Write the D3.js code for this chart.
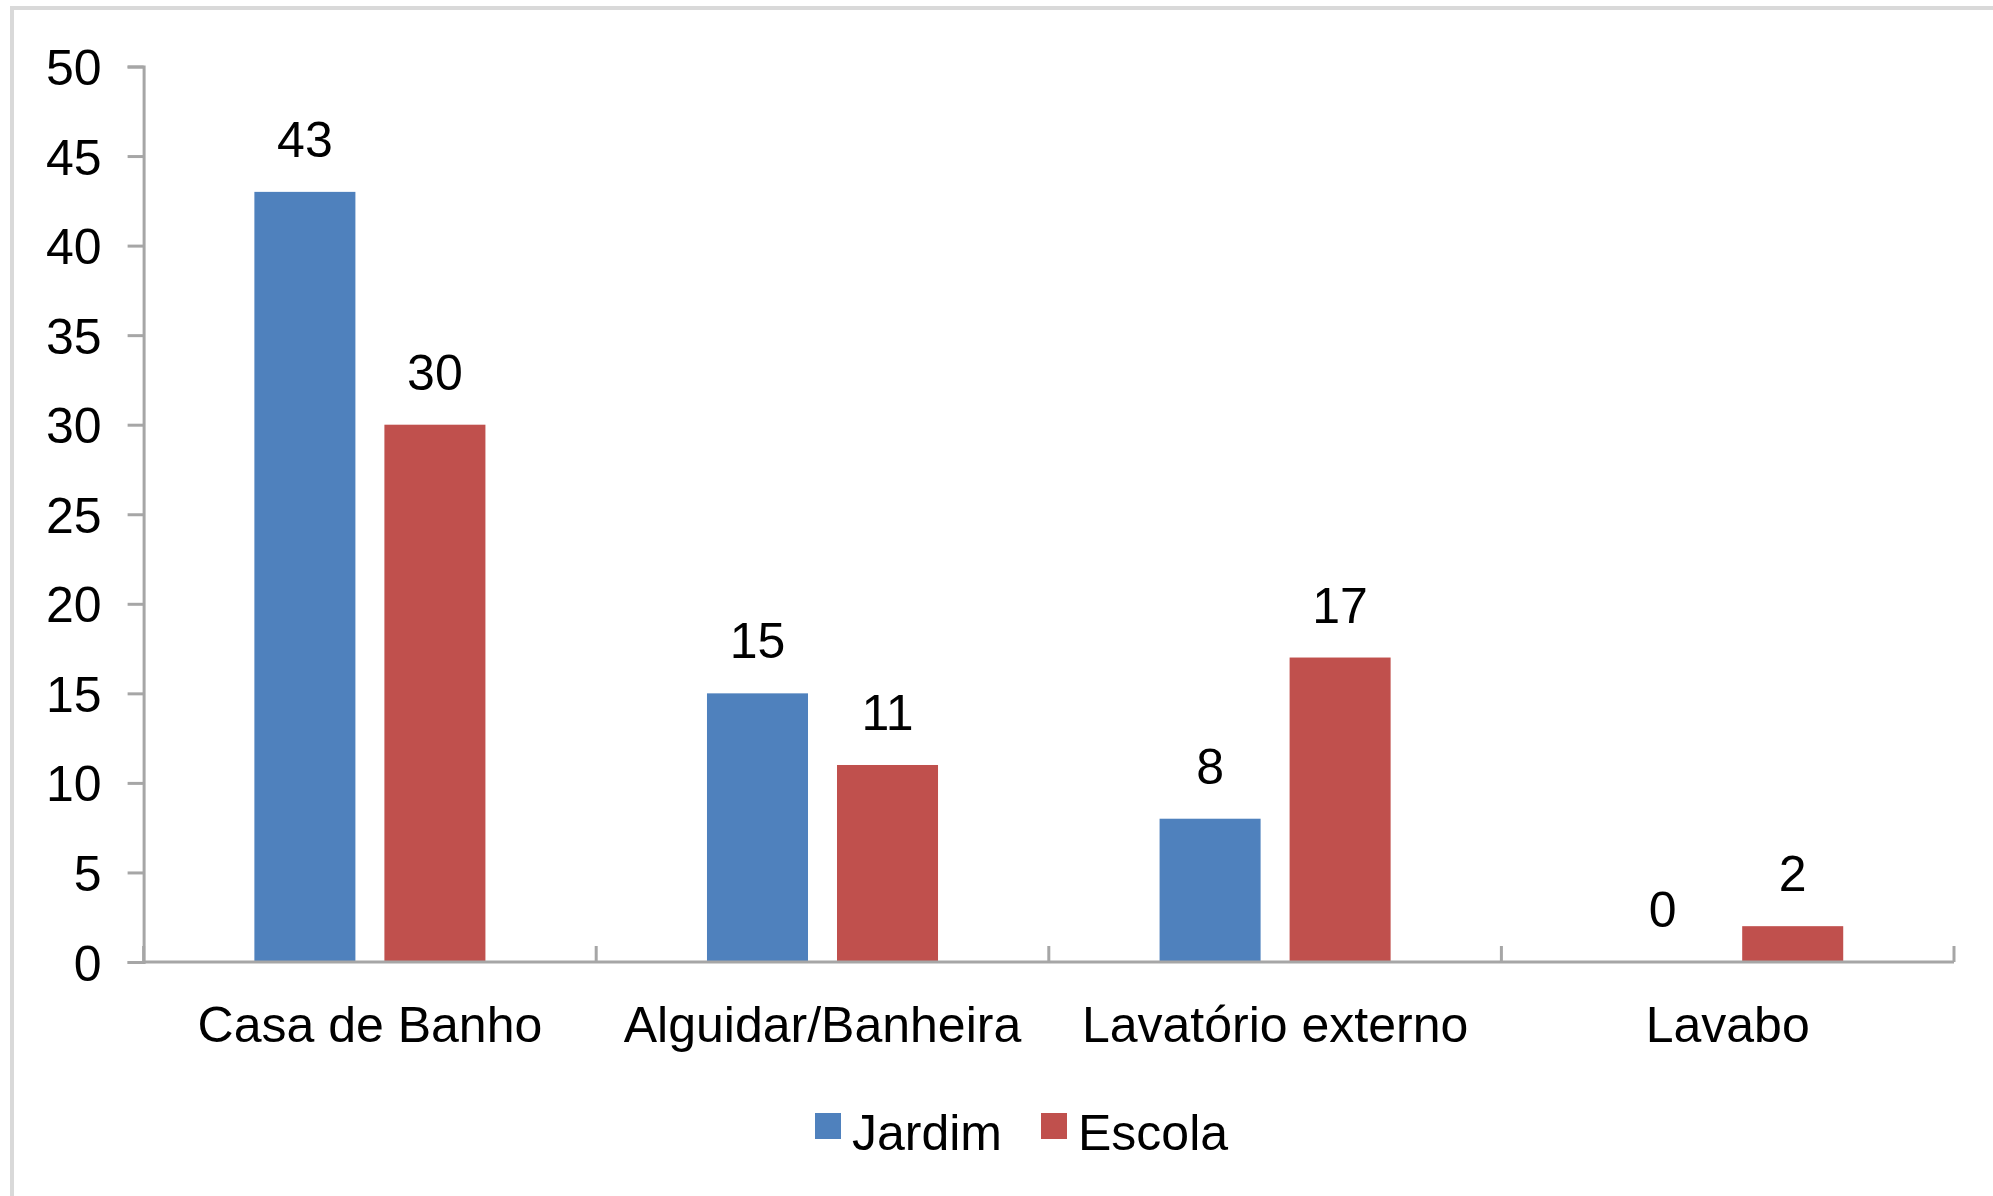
<!DOCTYPE html>
<html>
<head>
<meta charset="utf-8">
<script src="https://cdn.jsdelivr.net/npm/d3@7/dist/d3.min.js"></script>
<style>
  html, body { margin: 0; padding: 0; background: #ffffff; }
  svg { display: block; }
  text { font-family: "Liberation Sans", Arial, sans-serif; fill: #000; }
</style>
</head>
<body>
<svg id="chart" width="1993" height="1196"></svg>
<script>
// Categories and series
const categories = ["Casa de Banho", "Alguidar/Banheira", "Lavatório externo", "Lavabo"];
const seriesNames = ["Jardim", "Escola"];
const jardim = [43, 15, 8, 0];
const escola = [30, 11, 17, 2];
const yTicks = [0, 5, 10, 15, 20, 25, 30, 35, 40, 45, 50];
const colors = ["#4f81bd", "#c0504d"];

const values = [jardim, escola];
const rows = categories.map((c, i) => ({
  category: c,
  items: seriesNames.map((s, j) => ({ series: s, value: values[j][i] }))
}));

const svg = d3.select("#chart");
const W = 1993, H = 1196;
const plot = { left: 143.6, right: 1954, top: 66.5, bottom: 962 };
const FS = 50;

// Chart area frame
svg.append("rect")
  .attr("x", 12).attr("y", 8)
  .attr("width", W + 20).attr("height", H + 20)
  .attr("fill", "#ffffff")
  .attr("stroke", "#d9d9d9")
  .attr("stroke-width", 4);

const x0 = d3.scaleBand()
  .domain(categories)
  .range([plot.left, plot.right])
  .paddingInner(0).paddingOuter(0);

const x1 = d3.scaleBand()
  .domain(seriesNames)
  .range([0, x0.bandwidth()])
  .paddingInner(0.223)
  .paddingOuter(0.852);

const y = d3.scaleLinear()
  .domain([0, 50])
  .range([plot.bottom, plot.top]);

const color = d3.scaleOrdinal().domain(seriesNames).range(colors);

// Bars
const groups = svg.append("g").selectAll("g")
  .data(rows).join("g")
  .attr("transform", d => `translate(${x0(d.category)},0)`);

groups.selectAll("rect")
  .data(d => d.items).join("rect")
  .attr("x", d => x1(d.series))
  .attr("width", x1.bandwidth())
  .attr("y", d => y(d.value))
  .attr("height", d => y(0) - y(d.value))
  .attr("fill", d => color(d.series));

// Value labels
groups.selectAll("text.val")
  .data(d => d.items).join("text")
  .attr("class", "val")
  .attr("x", d => x1(d.series) + x1.bandwidth() / 2)
  .attr("y", d => y(d.value) - 35)
  .attr("text-anchor", "middle")
  .attr("font-size", FS)
  .text(d => d.value);

// Y axis
const yAxis = svg.append("g")
  .attr("transform", `translate(${plot.left},0)`)
  .call(d3.axisLeft(y).tickValues(yTicks).tickSize(16).tickPadding(26));
yAxis.select(".domain").attr("stroke", "#a6a6a6").attr("stroke-width", 3);
yAxis.selectAll(".tick line").attr("stroke", "#a6a6a6").attr("stroke-width", 3);
yAxis.selectAll(".tick text")
  .attr("font-size", FS)
  .attr("font-family", "Liberation Sans, Arial, sans-serif")
  .attr("fill", "#000")
  .attr("dy", "0.36em");

// X axis: ticks at category boundaries, pointing up into the plot
const boundaries = categories.map(c => x0(c)).concat([plot.right]);
const xg = svg.append("g");
xg.append("line")
  .attr("x1", plot.left).attr("x2", plot.right)
  .attr("y1", y(0)).attr("y2", y(0))
  .attr("stroke", "#a6a6a6").attr("stroke-width", 3);
xg.selectAll("line.tick")
  .data(boundaries).join("line")
  .attr("class", "tick")
  .attr("x1", d => d).attr("x2", d => d)
  .attr("y1", y(0)).attr("y2", y(0) - 16)
  .attr("stroke", "#a6a6a6").attr("stroke-width", 3);
xg.selectAll("text")
  .data(categories).join("text")
  .attr("x", d => x0(d) + x0.bandwidth() / 2)
  .attr("y", 1042)
  .attr("text-anchor", "middle")
  .attr("font-size", FS)
  .text(d => d);

// Legend
const legendItems = [
  { name: "Jardim", x: 815 },
  { name: "Escola", x: 1041 }
];
const lg = svg.append("g").selectAll("g")
  .data(legendItems).join("g")
  .attr("transform", d => `translate(${d.x},1113)`);
lg.append("rect")
  .attr("width", 26).attr("height", 26)
  .attr("fill", d => color(d.name));
lg.append("text")
  .attr("x", 37).attr("y", 37)
  .attr("font-size", FS)
  .text(d => d.name);
</script>
</body>
</html>
